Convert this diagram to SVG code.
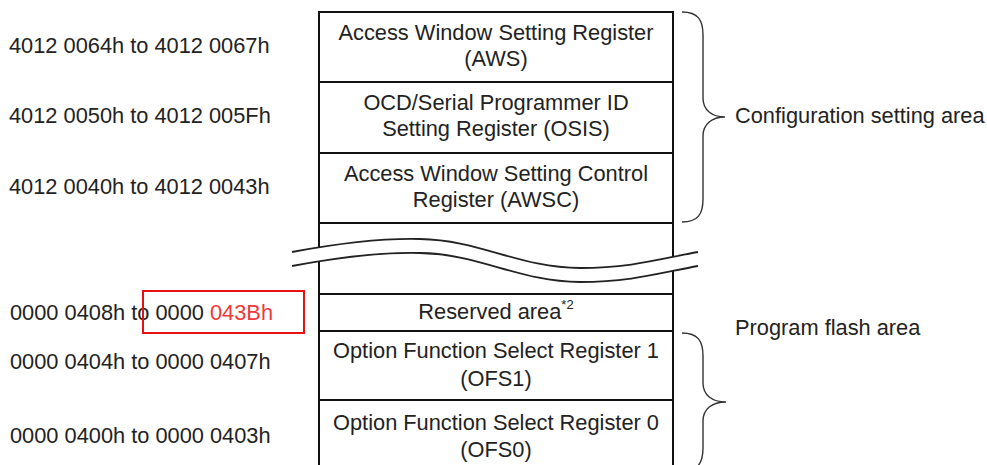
<svg xmlns="http://www.w3.org/2000/svg" width="987" height="465" viewBox="0 0 987 465">
  <style>
    text { font-family: "Liberation Sans", Arial, sans-serif; font-size: 21.8px; fill: #222; }
    .mid { text-anchor: middle; }
    .cell { fill: none; stroke: #111; stroke-width: 2; }
    .brace { fill: none; stroke: #333; stroke-width: 1.4; }
    .wave { fill: none; stroke: #222; stroke-width: 1.8; }
    .red { fill: #f03a3a; }
    .sup { font-size: 13px; }
  </style>
  <rect width="987" height="465" fill="#fff"/>

  <!-- address labels -->
  <g id="addresses">
    <text x="9" y="53">4012 0064h to 4012 0067h</text>
    <text x="9" y="123">4012 0050h to 4012 005Fh</text>
    <text x="9" y="194">4012 0040h to 4012 0043h</text>
    <text x="10" y="320">0000 0408h to 0000 <tspan class="red">043Bh</tspan></text>
    <text x="10" y="369">0000 0404h to 0000 0407h</text>
    <text x="10" y="443">0000 0400h to 0000 0403h</text>
  </g>
  <rect id="highlight" x="143" y="291" width="161" height="42" fill="none" stroke="#e81010" stroke-width="2"/>

  <!-- memory map column -->
  <g id="aws">
    <rect class="cell" x="319" y="12" width="354" height="70"/>
    <text class="mid" x="496" y="40">Access Window Setting Register</text>
    <text class="mid" x="496" y="66">(AWS)</text>
  </g>
  <g id="osis">
    <rect class="cell" x="319" y="82" width="354" height="71"/>
    <text class="mid" x="496" y="110">OCD/Serial Programmer ID</text>
    <text class="mid" x="496" y="136">Setting Register (OSIS)</text>
  </g>
  <g id="awsc">
    <rect class="cell" x="319" y="153" width="354" height="70"/>
    <text class="mid" x="496" y="181">Access Window Setting Control</text>
    <text class="mid" x="496" y="207">Register (AWSC)</text>
  </g>
  <g id="gap">
    <rect class="cell" x="319" y="223" width="354" height="71"/>
    <!-- break mark -->
    <path fill="#fff" d="M292,252 C340,243 380,238 420,239 C480,240 520,268 580,268 C630,268 660,259 698,252 L698,266 C660,273 630,282 580,282 C520,282 480,254 420,253 C380,252 340,257 292,266 Z"/>
    <path class="wave" d="M292,252 C340,243 380,238 420,239 C480,240 520,268 580,268 C630,268 660,259 698,252"/>
    <path class="wave" d="M292,266 C340,257 380,252 420,253 C480,254 520,282 580,282 C630,282 660,273 698,266"/>
  </g>
  <g id="reserved">
    <rect class="cell" x="319" y="294" width="354" height="37"/>
    <text class="mid" x="496" y="319">Reserved area<tspan class="sup" dy="-10">*2</tspan></text>
  </g>
  <g id="ofs1">
    <rect class="cell" x="319" y="331" width="354" height="69"/>
    <text class="mid" x="496" y="358">Option Function Select Register 1</text>
    <text class="mid" x="496" y="386">(OFS1)</text>
  </g>
  <g id="ofs0">
    <rect class="cell" x="319" y="400" width="354" height="80"/>
    <text class="mid" x="496" y="430">Option Function Select Register 0</text>
    <text class="mid" x="496" y="457">(OFS0)</text>
  </g>

  <!-- area braces -->
  <g id="connectors">
    <path class="brace" d="M682,12 C698,12 703,20 703,35 L703,98 C703,110 712,117 725,117 C712,117 703,124 703,136 L703,199 C703,214 698,222 682,222"/>
    <path class="brace" d="M682,333 C698,333 703,341 703,356 L703,383 C703,395 712,402 726,402 C712,402 703,409 703,421 L703,448 C703,463 698,471 682,471"/>
  </g>
  <g id="config-label"><text x="735" y="123">Configuration setting area</text></g>
  <g id="flash-label"><text x="735" y="335">Program flash area</text></g>
</svg>
